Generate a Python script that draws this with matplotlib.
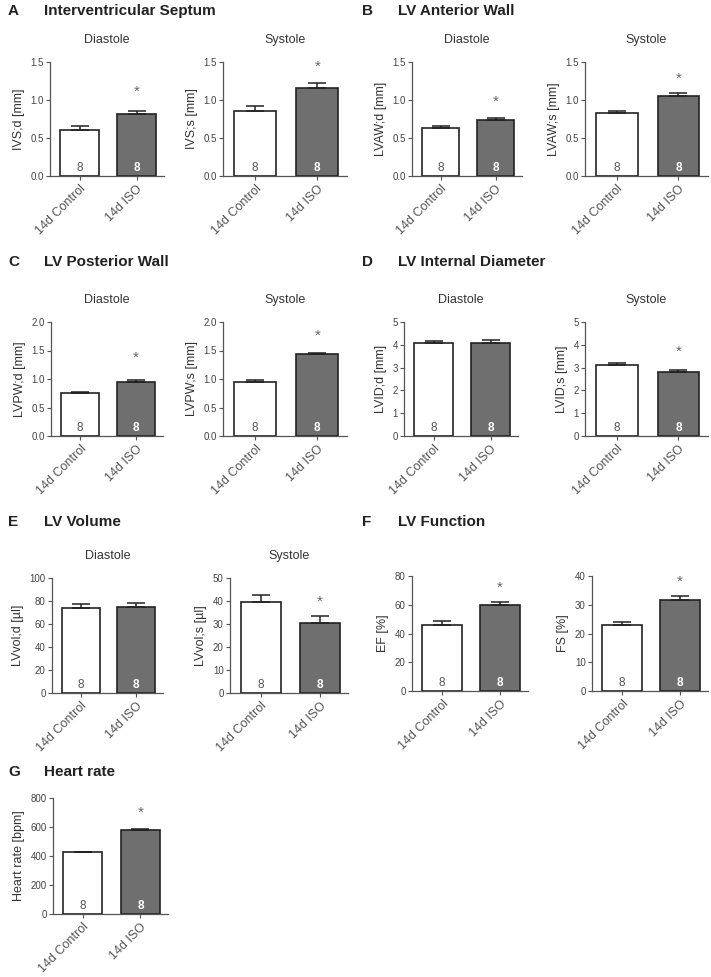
import matplotlib
matplotlib.use("Agg")
import matplotlib.pyplot as plt

plt.rcParams['font.family'] = ['Liberation Sans', 'DejaVu Sans']

groups = ["14d Control", "14d ISO"]
n_per_group = [8, 8]

# mean, sem per group, for each sub-panel
ivs_d = [0.61, 0.81];   ivs_d_err = [0.05, 0.05]
ivs_s = [0.86, 1.16];   ivs_s_err = [0.06, 0.07]
lvaw_d = [0.63, 0.74];  lvaw_d_err = [0.03, 0.02]
lvaw_s = [0.83, 1.05];  lvaw_s_err = [0.03, 0.04]
lvpw_d = [0.75, 0.95];  lvpw_d_err = [0.03, 0.04]
lvpw_s = [0.94, 1.43];  lvpw_s_err = [0.05, 0.02]
lvid_d = [4.08, 4.10];  lvid_d_err = [0.08, 0.09]
lvid_s = [3.12, 2.80];  lvid_s_err = [0.10, 0.11]
lvvol_d = [73.5, 74.5]; lvvol_d_err = [3.5, 3.5]
lvvol_s = [39.7, 30.3]; lvvol_s_err = [3.0, 3.0]
ef = [46.0, 59.5];      ef_err = [2.5, 2.2]
fs = [22.8, 31.5];      fs_err = [1.2, 1.5]
hr = [425, 578];        hr_err = [5, 5]

W, H = 711, 977
fig = plt.figure(figsize=(W / 100, H / 100), dpi=100)

GREY = "#6f6f6f"
TXT = "#444444"


def px_axes(x0, y0, x1, y1):
    return fig.add_axes([x0 / W, 1 - y1 / H, (x1 - x0) / W, (y1 - y0) / H])


def bar_panel(rect, vals, errs, ylim, yticks, fmt, ylabel, star=None, sub=None):
    ax = px_axes(*rect)
    x = [0, 1]
    ax.bar(x, vals, width=0.68, color=["white", GREY], edgecolor="#222222",
           linewidth=1.2, zorder=2)
    ax.errorbar(x, vals, yerr=[[0, 0], errs], fmt="none", ecolor="#222222",
                elinewidth=1.1, capsize=6.5, capthick=1.1, zorder=3)
    ax.set_xlim(-0.52, 1.48)
    ax.set_ylim(ylim)
    ax.set_yticks(yticks)
    ax.set_yticklabels([fmt.format(v) for v in yticks])
    ax.set_xticks(x)
    ax.set_xticklabels(groups, rotation=45, ha="right", rotation_mode="anchor",
                       fontsize=9, color="#333333")
    for s in ["top", "right"]:
        ax.spines[s].set_visible(False)
    for s in ["left", "bottom"]:
        ax.spines[s].set_color("#555555")
        ax.spines[s].set_linewidth(0.9)
    ax.tick_params(axis="y", direction="out", length=3, labelsize=7,
                   colors="#555555", labelcolor=TXT, pad=1.5)
    ax.tick_params(axis="x", direction="out", length=3, colors="#555555", pad=2)
    ax.set_ylabel(ylabel, fontsize=9, color="#333333", labelpad=4)
    yr = ylim[1] - ylim[0]
    ax.text(0, ylim[0] + 0.02 * yr, str(n_per_group[0]), ha="center", va="bottom",
            fontsize=8.5, color="#555555", zorder=4)
    ax.text(1, ylim[0] + 0.02 * yr, str(n_per_group[1]), ha="center", va="bottom",
            fontsize=8.5, color="white", fontweight="bold", zorder=4)
    if star is not None:
        ax.text(1, star, "*", ha="center", va="center", fontsize=11, color="#666666")
    if sub:
        ax.set_title(sub, fontsize=9, color="#333333", pad=14)
    return ax


def header(x, y, letter, title):
    fig.text(x / W, 1 - y / H, letter, fontsize=11, fontweight="bold",
             color="#222222", va="center")
    fig.text((x + 36) / W, 1 - y / H, title, fontsize=11, fontweight="bold",
             color="#222222", va="center")


# row 1
header(8, 11, "A", "Interventricular Septum")
bar_panel((50, 62, 164, 176), ivs_d, ivs_d_err, (0, 1.5), [0, 0.5, 1.0, 1.5],
          "{:.1f}", "IVS;d [mm]", star=1.11, sub="Diastole")
bar_panel((223, 62, 347, 176), ivs_s, ivs_s_err, (0, 1.5), [0, 0.5, 1.0, 1.5],
          "{:.1f}", "IVS;s [mm]", star=1.44, sub="Systole")
header(362, 11, "B", "LV Anterior Wall")
bar_panel((412, 62, 522, 176), lvaw_d, lvaw_d_err, (0, 1.5), [0, 0.5, 1.0, 1.5],
          "{:.1f}", "LVAW;d [mm]", star=0.98, sub="Diastole")
bar_panel((585, 62, 708, 176), lvaw_s, lvaw_s_err, (0, 1.5), [0, 0.5, 1.0, 1.5],
          "{:.1f}", "LVAW;s [mm]", star=1.28, sub="Systole")

# row 2
header(8, 262, "C", "LV Posterior Wall")
bar_panel((51, 322, 163, 436), lvpw_d, lvpw_d_err, (0, 2.0), [0, 0.5, 1.0, 1.5, 2.0],
          "{:.1f}", "LVPW;d [mm]", star=1.37, sub="Diastole")
bar_panel((223, 322, 347, 436), lvpw_s, lvpw_s_err, (0, 2.0), [0, 0.5, 1.0, 1.5, 2.0],
          "{:.1f}", "LVPW;s [mm]", star=1.76, sub="Systole")
header(362, 262, "D", "LV Internal Diameter")
bar_panel((404, 322, 518, 436), lvid_d, lvid_d_err, (0, 5), [0, 1, 2, 3, 4, 5],
          "{:.0f}", "LVID;d [mm]", sub="Diastole")
bar_panel((585, 322, 708, 436), lvid_s, lvid_s_err, (0, 5), [0, 1, 2, 3, 4, 5],
          "{:.0f}", "LVID;s [mm]", star=3.7, sub="Systole")

# row 3
header(8, 522, "E", "LV Volume")
bar_panel((52, 578, 163, 693), lvvol_d, lvvol_d_err, (0, 100), [0, 20, 40, 60, 80, 100],
          "{:.0f}", "LVvol;d [µl]", sub="Diastole")
bar_panel((230, 578, 348, 693), lvvol_s, lvvol_s_err, (0, 50), [0, 10, 20, 30, 40, 50],
          "{:.0f}", "LVvol;s [µl]", star=39.5, sub="Systole")
header(362, 522, "F", "LV Function")
bar_panel((412, 576, 528, 691), ef, ef_err, (0, 80), [0, 20, 40, 60, 80],
          "{:.0f}", "EF [%]", star=72)
bar_panel((592, 576, 708, 691), fs, fs_err, (0, 40), [0, 10, 20, 30, 40],
          "{:.0f}", "FS [%]", star=38)

# row 4
header(8, 772, "G", "Heart rate")
bar_panel((53, 798, 168, 914), hr, hr_err, (0, 800), [0, 200, 400, 600, 800],
          "{:.0f}", "Heart rate [bpm]", star=700)

fig.savefig("out.png", dpi=100)
